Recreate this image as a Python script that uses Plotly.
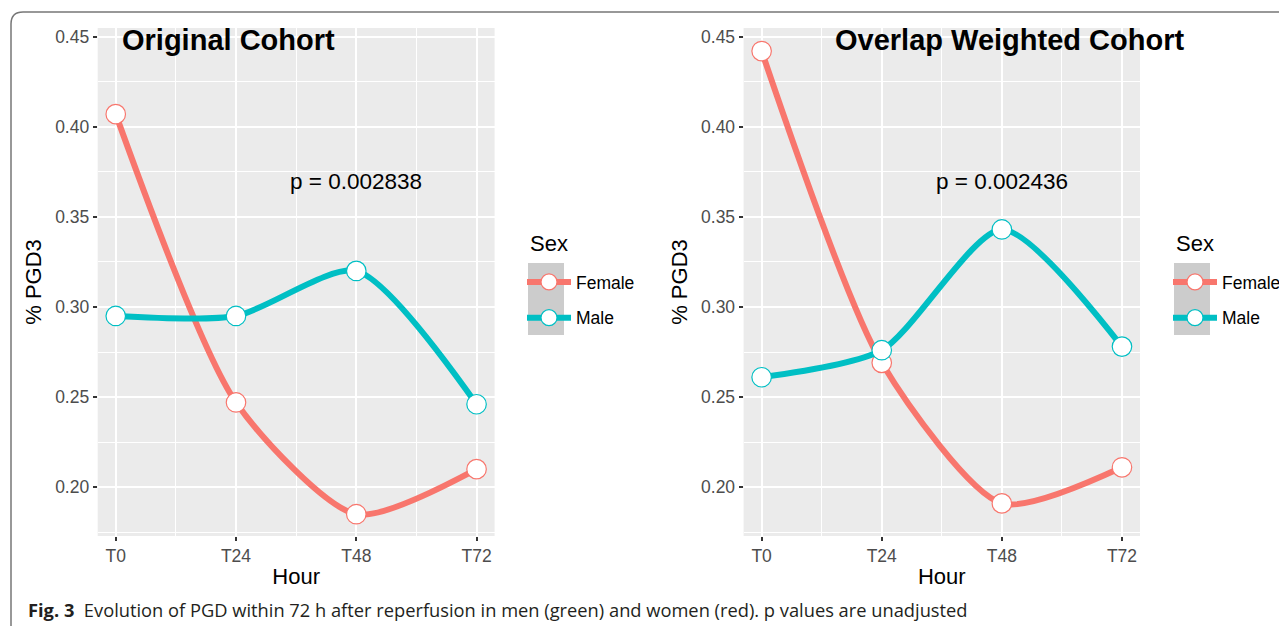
import plotly.graph_objects as go

W, H = 1287, 626
OFF = 8  # page body margin of the browser

hours = [0, 24, 48, 72]
hour_labels = ["T0", "T24", "T48", "T72"]

orig_female = [0.407, 0.247, 0.185, 0.210]
orig_male = [0.295, 0.295, 0.320, 0.246]
ovl_female = [0.442, 0.269, 0.191, 0.211]
ovl_male = [0.261, 0.276, 0.343, 0.278]

y_ticks = [0.20, 0.25, 0.30, 0.35, 0.40, 0.45]

FEMALE = "#F8766D"
MALE = "#00BFC4"
FONT = "Liberation Sans"


def px_x(p):
    return (p - OFF) / W


def px_y(p):
    return 1 - (p - OFF) / H


fig = go.Figure()


def add_series(xa, ya, y, name, color, legend):
    fig.add_trace(go.Scatter(
        x=hours, y=y, xaxis=xa, yaxis=ya, name=name,
        mode="lines+markers",
        line=dict(color=color, width=6, shape="spline", smoothing=0.7),
        marker=dict(size=19.5, color="white", line=dict(color=color, width=1.2)),
        legend=legend, legendgroup=legend + name, showlegend=True,
    ))


add_series("x", "y", orig_female, "Female", FEMALE, "legend")
add_series("x", "y", orig_male, "Male", MALE, "legend")
add_series("x2", "y2", ovl_female, "Female", FEMALE, "legend2")
add_series("x2", "y2", ovl_male, "Male", MALE, "legend2")

plot_top, plot_bot = 28, 536
left_dom = [px_x(97.7), px_x(494.6)]
right_dom = [px_x(743.6), px_x(1140)]
ydom = [px_y(plot_bot), px_y(plot_top)]

TICKFONT = dict(family=FONT, size=17.5, color="#4D4D4D")
TITLEFONT = dict(family=FONT, size=22, color="black")

xaxis_common = dict(
    range=[-3.6, 75.6], tickvals=hours, ticktext=hour_labels,
    showgrid=True, gridcolor="white", gridwidth=2, zeroline=False,
    minor=dict(dtick=12, tick0=0, showgrid=True, gridcolor="white", gridwidth=1),
    ticks="outside", ticklen=4, tickwidth=1.5, tickcolor="#333333",
    tickfont=TICKFONT,
    title=dict(text="Hour", font=TITLEFONT, standoff=3),
    showline=False,
)
yaxis_common = dict(
    range=[0.1729, 0.4548], tickvals=y_ticks, tickformat=".2f",
    showgrid=True, gridcolor="white", gridwidth=2, zeroline=False,
    minor=dict(dtick=0.025, tick0=0.175, showgrid=True, gridcolor="white", gridwidth=1),
    ticks="outside", ticklen=4, tickwidth=1.5, tickcolor="#333333",
    tickfont=TICKFONT,
    title=dict(text="% PGD3", font=TITLEFONT, standoff=7),
    showline=False,
)

legend_common = dict(
    xanchor="left", yanchor="top",
    font=dict(family=FONT, size=17.5, color="black"), bgcolor="rgba(0,0,0,0)",
    traceorder="grouped", tracegroupgap=10, itemwidth=44,
)

fig.update_layout(
    width=W, height=H,
    margin=dict(l=0, r=0, t=0, b=0),
    paper_bgcolor="white", plot_bgcolor="#EBEBEB",
    font=dict(family=FONT, color="black"),
    xaxis=dict(domain=left_dom, anchor="y", **xaxis_common),
    yaxis=dict(domain=ydom, anchor="x", **yaxis_common),
    xaxis2=dict(domain=right_dom, anchor="y2", **xaxis_common),
    yaxis2=dict(domain=ydom, anchor="x2", **yaxis_common),
    legend=dict(x=px_x(522), y=px_y(264), **legend_common),
    legend2=dict(x=px_x(1168), y=px_y(264), **legend_common),
)

# legend titles
for x0 in (528, 1174):
    fig.add_annotation(x=px_x(x0), y=px_y(243), xref="paper", yref="paper",
                       xanchor="left", yanchor="middle", showarrow=False,
                       text="Sex", font=TITLEFONT)

# panel titles and p-values
fig.add_annotation(x=22.4, y=0.448, xref="x", yref="y", text="<b>Original Cohort</b>",
                   showarrow=False, font=dict(family=FONT, size=29, color="black"))
fig.add_annotation(x=49.6, y=0.448, xref="x2", yref="y2", text="<b>Overlap Weighted Cohort</b>",
                   showarrow=False, font=dict(family=FONT, size=29, color="black"))
fig.add_annotation(x=48, y=0.3695, xref="x", yref="y", text="p = 0.002838",
                   showarrow=False, font=dict(family=FONT, size=22.5, color="black"))
fig.add_annotation(x=48, y=0.3695, xref="x2", yref="y2", text="p = 0.002436",
                   showarrow=False, font=dict(family=FONT, size=22.5, color="black"))

# caption
fig.add_annotation(x=px_x(26), y=px_y(609), xref="paper", yref="paper",
                   xanchor="left", yanchor="middle", showarrow=False,
                   text="<b>Fig. 3</b>\u00a0\u00a0Evolution of PGD within 72 h after reperfusion in men (green) and women (red). p values are unadjusted",
                   font=dict(family="Open Sans", size=18.3, color="#231F20"))

# legend key backgrounds
for x0 in (528, 1174):
    fig.add_shape(type="rect", xref="paper", yref="paper",
                  x0=px_x(x0), x1=px_x(x0 + 36), y0=px_y(335), y1=px_y(263),
                  fillcolor="#CCCCCC", line=dict(width=0), layer="below")

# rounded frame
r = 12
xl, yt = 11, 12
path = (f"M {px_x(xl)},{px_y(H + 20)} L {px_x(xl)},{px_y(yt + r)} "
        f"Q {px_x(xl)},{px_y(yt)} {px_x(xl + r)},{px_y(yt)} L {px_x(W + 20)},{px_y(yt)}")
fig.add_shape(type="path", xref="paper", yref="paper", path=path,
              line=dict(color="#777777", width=1.5))

fig.write_html("out.html")
